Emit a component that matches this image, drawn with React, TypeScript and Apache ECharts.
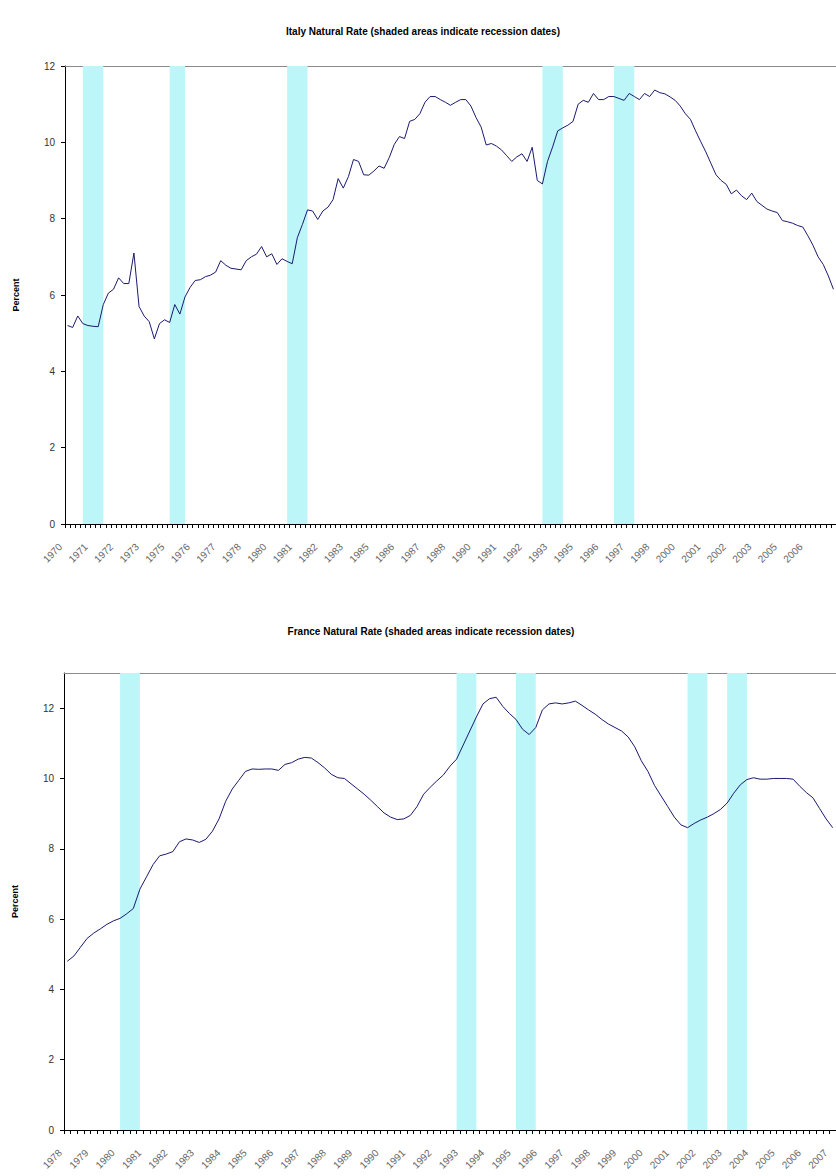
import React, { useEffect, useRef } from "react";
import * as echarts from "echarts";

// ---------- DATA ----------
const italyStartYear = 1970;
const franceStartYear = 1978;

const italyValues = [
  5.2, 5.15, 5.45, 5.25, 5.2, 5.18, 5.17, 5.75, 6.05, 6.15,
  6.45, 6.3, 6.3, 7.1, 5.7, 5.45, 5.3, 4.85, 5.25, 5.35,
  5.28, 5.75, 5.5, 5.95, 6.2, 6.38, 6.4, 6.48, 6.52, 6.6,
  6.9, 6.78, 6.7, 6.68, 6.66, 6.9, 7.0, 7.07, 7.27, 7.0,
  7.08, 6.8, 6.95, 6.88, 6.82, 7.5, 7.85, 8.23, 8.2, 7.98,
  8.2, 8.3, 8.5, 9.05, 8.8, 9.1, 9.55, 9.5, 9.15, 9.14,
  9.25, 9.38, 9.32, 9.6, 9.95, 10.15, 10.1, 10.55, 10.6, 10.75,
  11.05, 11.2, 11.2, 11.12, 11.05, 10.97, 11.05, 11.12, 11.12, 10.95,
  10.65, 10.4, 9.93, 9.97, 9.9, 9.8, 9.65, 9.5, 9.62, 9.7,
  9.5, 9.87, 9.0, 8.91, 9.5, 9.88, 10.3, 10.38, 10.45, 10.55,
  11.0, 11.1, 11.05, 11.28, 11.12, 11.12, 11.2, 11.2, 11.15, 11.1,
  11.28, 11.2, 11.12, 11.28, 11.2, 11.37, 11.3, 11.27, 11.19, 11.1,
  10.95, 10.75, 10.6, 10.3, 10.02, 9.75, 9.45, 9.15, 9.0, 8.9,
  8.65, 8.75, 8.6, 8.5, 8.67, 8.45, 8.35, 8.25, 8.2, 8.16,
  7.95, 7.92, 7.88, 7.82, 7.78, 7.55, 7.3, 7.0, 6.8, 6.5,
  6.15,
];

const franceValues = [
  4.8, 4.95, 5.2, 5.45, 5.6, 5.72, 5.85, 5.95, 6.02, 6.15,
  6.3, 6.85, 7.2, 7.55, 7.8, 7.85, 7.92, 8.2, 8.28, 8.25,
  8.18, 8.27, 8.5, 8.85, 9.35, 9.7, 9.95, 10.2, 10.27, 10.26,
  10.27, 10.27, 10.23, 10.4, 10.45, 10.55, 10.6, 10.58, 10.45, 10.3,
  10.12, 10.02, 10.0, 9.85, 9.7, 9.55, 9.38, 9.2, 9.02, 8.9,
  8.83, 8.85, 8.95, 9.2, 9.55, 9.75, 9.93, 10.1, 10.35, 10.55,
  10.95, 11.35, 11.75, 12.12, 12.27, 12.31, 12.05, 11.85, 11.68, 11.4,
  11.25, 11.45, 11.95, 12.12, 12.15, 12.12, 12.15, 12.2, 12.08, 11.95,
  11.83, 11.68, 11.55, 11.45, 11.35, 11.18, 10.9, 10.5, 10.2, 9.8,
  9.5, 9.2, 8.9, 8.68, 8.6, 8.72, 8.82, 8.9, 9.0, 9.12,
  9.3, 9.58, 9.82, 9.97, 10.02, 9.98, 9.98, 10.0, 10.0, 10.0,
  9.98, 9.78, 9.6, 9.45, 9.15, 8.85, 8.6,
];

// recession periods as [start quarter, end quarter]
const italyRecessions: [string, string][] = [
  ["1970 Q4", "1971 Q4"],
  ["1975 Q1", "1975 Q4"],
  ["1980 Q4", "1981 Q4"],
  ["1993 Q2", "1994 Q2"],
  ["1996 Q4", "1997 Q4"],
];
const franceRecessions: [string, string][] = [
  ["1980 Q1", "1980 Q4"],
  ["1992 Q4", "1993 Q3"],
  ["1995 Q1", "1995 Q4"],
  ["2001 Q3", "2002 Q2"],
  ["2003 Q1", "2003 Q4"],
];

const italyTitle = "Italy Natural Rate (shaded areas indicate recession dates)";
const franceTitle = "France Natural Rate (shaded areas indicate recession dates)";

function quarters(startYear: number, count: number): string[] {
  const out: string[] = [];
  for (let i = 0; i < count; i++) {
    out.push(`${startYear + Math.floor(i / 4)} Q${(i % 4) + 1}`);
  }
  return out;
}

const italyCats = quarters(italyStartYear, italyValues.length);
const franceCats = quarters(franceStartYear, franceValues.length);

const FONT = "'Liberation Sans', Arial, sans-serif";
const BAND = "#bdf6f9";
const LINE = "#1a1a70";

export default function App() {
  const ref = useRef<HTMLDivElement>(null);

  useEffect(() => {
    if (!ref.current) return;
    const chart = echarts.init(ref.current, null, { renderer: "svg" });

    const mkX = (cats: string[], grid: number, interval: number, showMax: boolean) => ({
      type: "category",
      gridIndex: grid,
      data: cats,
      boundaryGap: true,
      axisLine: { show: true, lineStyle: { color: "#000", width: 1 } },
      axisTick: { show: true, interval: 0, length: 4, inside: false, lineStyle: { color: "#000" } },
      axisLabel: {
        interval,
        rotate: 45,
        margin: 14,
        padding: [0, 10, 0, 0],
        fontSize: 10,
        color: "#666",
        fontFamily: FONT,
        showMaxLabel: showMax,
        formatter: (v: string) => v.split(" ")[0],
      },
      splitLine: { show: false },
    });
    const mkTop = (cats: string[], grid: number) => ({
      type: "category",
      gridIndex: grid,
      data: cats,
      position: "top",
      boundaryGap: true,
      axisLine: { show: true, lineStyle: { color: "#8a8a8a", width: 1 } },
      axisTick: { show: false },
      axisLabel: { show: false },
      splitLine: { show: false },
    });
    const mkY = (grid: number, max: number) => ({
      type: "value",
      gridIndex: grid,
      min: 0,
      max,
      interval: 2,
      name: "Percent",
      nameLocation: "middle",
      nameGap: 45,
      nameRotate: 90,
      nameTextStyle: { fontSize: 9, fontWeight: "bold", color: "#000", fontFamily: FONT },
      axisLine: { show: true, lineStyle: { color: "#000", width: 1 } },
      axisTick: { show: true, length: 4, lineStyle: { color: "#000" } },
      axisLabel: { fontSize: 10, color: "#333", margin: 10, fontFamily: FONT, showMaxLabel: max === 12 },
      splitLine: { show: false },
    });

    const bands = (rec: [string, string][]) =>
      rec.map(([a, b]) => [{ xAxis: a }, { xAxis: b }]);

    chart.setOption({
      animation: false,
      backgroundColor: "#fff",
      title: [
        {
          text: italyTitle,
          left: 418,
          top: 21,
          textAlign: "center",
          textStyle: { fontSize: 10, fontWeight: "bold", color: "#000", fontFamily: FONT },
        },
        {
          text: franceTitle,
          left: 426,
          top: 621,
          textAlign: "center",
          textStyle: { fontSize: 10, fontWeight: "bold", color: "#000", fontFamily: FONT },
        },
      ],
      grid: [
        { left: 65, top: 66, width: 771, height: 458 },
        { left: 64, top: 673, width: 772, height: 457 },
      ],
      xAxis: [
        mkX(italyCats, 0, 4, false),
        mkX(franceCats, 1, 3, true),
        mkTop(italyCats, 0),
        mkTop(franceCats, 1),
      ],
      yAxis: [mkY(0, 12), mkY(1, 13)],
      series: [
        {
          type: "line",
          xAxisIndex: 0,
          yAxisIndex: 0,
          data: italyValues,
          symbol: "none",
          lineStyle: { color: LINE, width: 1 },
          markArea: {
            silent: true,
            itemStyle: { color: BAND, opacity: 1 },
            data: bands(italyRecessions),
          },
          z: 3,
        },
        {
          type: "line",
          xAxisIndex: 1,
          yAxisIndex: 1,
          data: franceValues,
          symbol: "none",
          lineStyle: { color: LINE, width: 1 },
          markArea: {
            silent: true,
            itemStyle: { color: BAND, opacity: 1 },
            data: bands(franceRecessions),
          },
          z: 3,
        },
      ],
    });

    return () => chart.dispose();
  }, []);

  return (
    <div
      ref={ref}
      style={{ position: "absolute", left: 0, top: 0, width: 836, height: 1176, background: "#fff" }}
    />
  );
}
